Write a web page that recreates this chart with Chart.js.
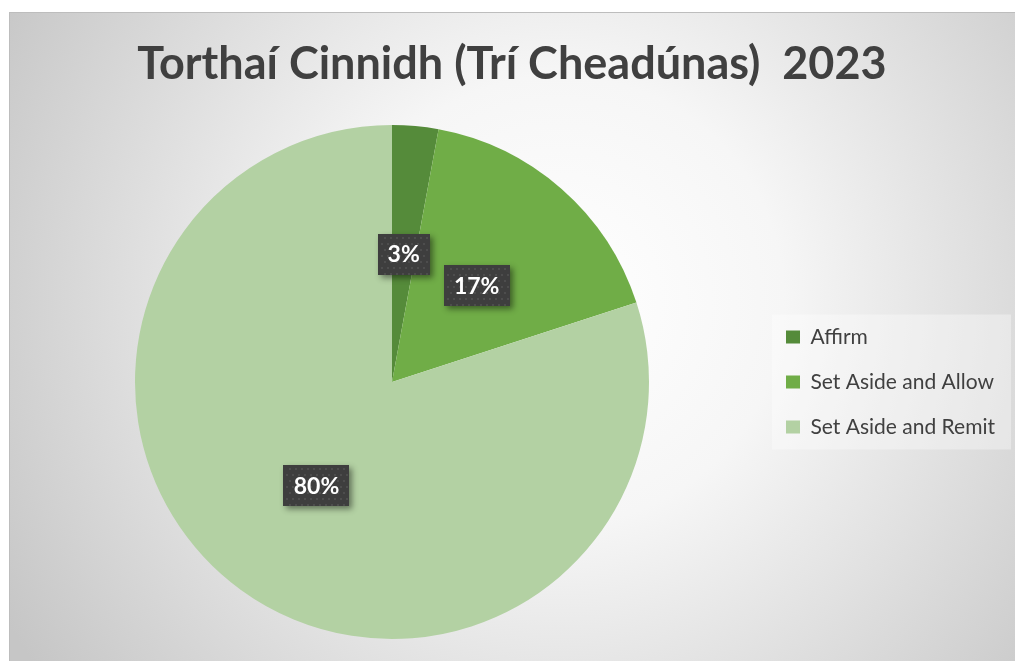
<!DOCTYPE html>
<html>
<head>
<meta charset="utf-8">
<script src="https://cdn.jsdelivr.net/npm/chart.js@4/dist/chart.umd.min.js"></script>
<style>
  html, body { margin: 0; padding: 0; background: #ffffff; }
  #wrap { width: 1015px; height: 661px; position: relative; }
</style>
</head>
<body>
<div id="wrap"><canvas id="c" width="1015" height="661"></canvas></div>
<script>
const titleText = 'Torthaí Cinnidh (Trí Cheadúnas)  2023';
const categories = ['Affirm', 'Set Aside and Allow', 'Set Aside and Remit'];
const shareValues = [2.9, 17.1, 80];
const shareLabels = ['3%', '17%', '80%'];
const sliceColors = ['#558B3A', '#70AD47', '#B3D1A3'];

const FONT = 'Lato, "Open Sans", sans-serif';

const backgroundPlugin = {
  id: 'bgBox',
  beforeDraw(chart) {
    const ctx = chart.ctx;
    const x0 = 9, y0 = 12, x1 = chart.width, y1 = chart.height;
    ctx.save();
    const g = ctx.createRadialGradient(560, 300, 0, 560, 300, 640);
    g.addColorStop(0, '#ffffff');
    g.addColorStop(0.35, '#f6f6f6');
    g.addColorStop(1, '#c6c6c6');
    ctx.fillStyle = g;
    ctx.fillRect(x0, y0, x1 - x0, y1 - y0);
    ctx.strokeStyle = '#bdbdbd';
    ctx.lineWidth = 1;
    ctx.strokeRect(x0 + 0.5, y0 + 0.5, x1 - x0 + 5, y1 - y0 + 5);
    const lg = chart.legend;
    if (lg && lg.legendHitBoxes && lg.legendHitBoxes.length) {
      const hb = lg.legendHitBoxes;
      const top = hb[0].top - 12;
      const bottom = hb[hb.length - 1].top + hb[hb.length - 1].height + 12;
      const left = hb[0].left - 14;
      ctx.fillStyle = 'rgba(255,255,255,0.35)';
      ctx.fillRect(left, top, 1011 - left, bottom - top);
    }
    ctx.restore();
  }
};

const labelPlugin = {
  id: 'boxLabels',
  afterDatasetsDraw(chart) {
    const ctx = chart.ctx;
    const meta = chart.getDatasetMeta(0);
    ctx.save();
    ctx.font = 'bold 23px ' + FONT;
    ctx.textAlign = 'center';
    ctx.textBaseline = 'middle';
    meta.data.forEach((arc, i) => {
      const p = arc.getCenterPoint();
      const text = shareLabels[i];
      const tw = ctx.measureText(text).width;
      const w = Math.round(tw + 20), h = 41;
      const bx = Math.round(p.x - w / 2), by = Math.round(p.y - h / 2);
      ctx.save();
      ctx.shadowColor = 'rgba(0,0,0,0.45)';
      ctx.shadowBlur = 6;
      ctx.shadowOffsetX = 3;
      ctx.shadowOffsetY = 3;
      ctx.fillStyle = '#3e3e3e';
      ctx.fillRect(bx, by, w, h);
      ctx.restore();
      ctx.fillStyle = '#4d4d4d';
      for (let yy = by + 3; yy < by + h - 1; yy += 6) {
        for (let xx = bx + 3 + ((Math.round((yy - by) / 6) % 2) * 3); xx < bx + w - 1; xx += 6) {
          ctx.fillRect(xx, yy, 2, 2);
        }
      }
      ctx.fillStyle = '#ffffff';
      ctx.fillText(text, p.x, p.y + 1);
    });
    ctx.restore();
  }
};

new Chart(document.getElementById('c'), {
  type: 'pie',
  data: {
    labels: categories,
    datasets: [{
      data: shareValues,
      backgroundColor: sliceColors,
      borderWidth: 0
    }]
  },
  options: {
    responsive: false,
    animation: false,
    layout: { padding: { left: 22, right: 13, top: 12, bottom: 22 } },
    plugins: {
      title: {
        display: true,
        text: titleText,
        color: '#404040',
        font: { family: FONT, size: 45, weight: 'bold', lineHeight: 1.2 },
        padding: { top: 25, bottom: 34 }
      },
      legend: {
        position: 'right',
        maxWidth: 240,
        title: {
          display: true,
          text: ' ',
          font: { size: 10, lineHeight: 1.2 },
          padding: { top: 50, bottom: 51 }
        },
        labels: {
          color: '#404040',
          font: { family: FONT, size: 21 },
          boxWidth: 14,
          boxHeight: 13,
          padding: 24
        }
      },
      tooltip: { enabled: false }
    }
  },
  plugins: [backgroundPlugin, labelPlugin]
});
</script>
</body>
</html>
